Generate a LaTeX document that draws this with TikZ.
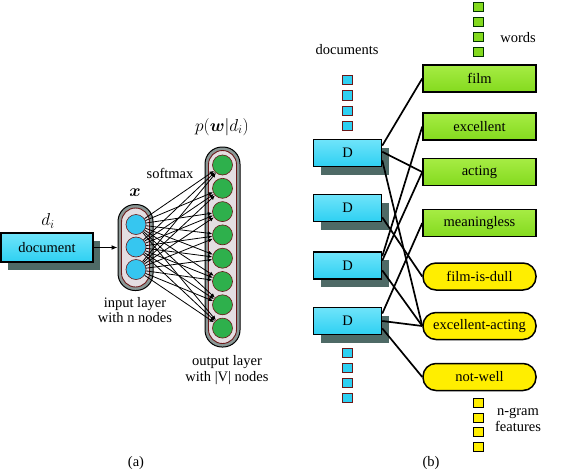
\documentclass[tikz,border=0pt]{standalone}
\usepackage{fontspec}
\setmainfont{Liberation Serif}
\usepackage{amsmath,bm}
\usetikzlibrary{arrows.meta,shadows,calc}
\definecolor{cyanf}{HTML}{2ED0F2}
\definecolor{cyantop}{HTML}{6FE4FA}
\definecolor{greenf}{HTML}{84DA1E}
\definecolor{greentop}{HTML}{A6EC44}
\definecolor{yellowf}{HTML}{FFEE00}
\definecolor{shadowc}{HTML}{4E6A66}
\definecolor{capgray}{HTML}{8A9896}
\definecolor{capin}{HTML}{E4DEE2}
\definecolor{darkred}{HTML}{6A1818}
\definecolor{nodegreen}{HTML}{2EB04C}
\definecolor{nodecyan}{HTML}{36C6F0}
\begin{document}
\begin{tikzpicture}[x=1pt,y=-1pt,
  lbl/.style={font=\fontsize{14.5}{15.5}\selectfont, inner sep=0pt, align=center},
  mlbl/.style={font=\fontsize{16.5}{18}\selectfont, inner sep=0pt},
  boxfont/.style={font=\fontsize{14.5}{16}\selectfont},
  cyanbox/.style={draw=black, line width=1.5pt, top color=cyantop, bottom color=cyanf,
    inner sep=0pt, boxfont,
    drop shadow={shadow xshift=7pt, shadow yshift=-8pt, fill=shadowc, opacity=1}},
  dbox/.style={cyanbox, minimum width=68pt, minimum height=27pt},
  wbox/.style={draw=black, line width=1.5pt, top color=greentop, bottom color=greenf,
    minimum width=113pt, minimum height=27pt, inner sep=0pt, boxfont},
  nbox/.style={draw=black, line width=1.5pt, fill=yellowf, rounded corners=13pt,
    minimum width=113pt, minimum height=27pt, inner sep=0pt, boxfont},
  capout/.style={draw=black, line width=1pt, fill=capgray, inner sep=0pt},
  capinner/.style={draw=darkred, line width=0.9pt, fill=capin, inner sep=0pt},
  incirc/.style={circle, draw=darkred, line width=0.6pt, fill=nodecyan, minimum size=20pt, inner sep=0pt},
  outcirc/.style={circle, draw=darkred, line width=0.6pt, fill=nodegreen, minimum size=20pt, inner sep=0pt},
  sq/.style={draw=#1, line width=1.2pt, minimum size=9.5pt, inner sep=0pt},
  nnedge/.style={line width=0.8pt, -{Latex[length=4.5pt,width=4pt]}},
  link/.style={line width=1.7pt}
]
\useasboundingbox (0,0) rectangle (570,474);

% ---------- (a) ----------
\node[cyanbox, minimum width=92pt, minimum height=29pt] (doc) at (47,247.5) {document};
\node[mlbl] (dlbl) at (48,221) {$d_i$};

\node[capout, rounded corners=17pt, minimum width=35pt, minimum height=86pt] (inL) at (135.5,247.5) {};
\node[capinner, rounded corners=14pt, minimum width=28pt, minimum height=79pt] (inLi) at (135.5,247.5) {};
\node[incirc] (i1) at (136,224.5) {};
\node[incirc] (i2) at (136,247) {};
\node[incirc] (i3) at (136,269.5) {};
\node[mlbl] (xlbl) at (135,193) {$\boldsymbol{x}$};
\node[lbl] (inlbl) at (135,310) {input layer\\with n nodes};

\node[capout, rounded corners=17pt, minimum width=35pt, minimum height=200pt] (outL) at (222.5,247) {};
\node[capinner, rounded corners=14pt, minimum width=28pt, minimum height=193pt] (outLi) at (222.5,247) {};
\foreach \j in {1,...,8} {
  \node[outcirc] (o\j) at (222.5,{165+(\j-1)*23.3}) {};
}
\node[mlbl] (plbl) at (222,127) {$p(\boldsymbol{w}|d_i)$};
\node[lbl] (smlbl) at (170,173) {softmax};
\node[lbl] (outlbl) at (227,370) {output layer\\with |V| nodes};

\draw[line width=1.2pt, -{Latex[length=6pt,width=5pt]}] (doc.east) -- (inL.west);
\foreach \i in {1,2,3} {
  \foreach \j in {1,...,8} {
    \draw[nnedge] (i\i) -- (o\j);
  }
}
\node[lbl] (alb) at (136,463) {(a)};

% ---------- (b) ----------
\node[lbl] (doclbl) at (347,50) {documents};
\foreach \k/\y in {1/80,2/95.5,3/111,4/126} {
  \node[sq=darkred, fill=cyanf] (ct\k) at (347.5,\y) {};
}
\foreach \k/\y in {1/353,2/368,3/383,4/398} {
  \node[sq=darkred, fill=cyanf] (cb\k) at (347.5,\y) {};
}
\foreach \k/\y in {1/7,2/22,3/37,4/52} {
  \node[sq=black!80!green, fill=greenf] (gs\k) at (478.5,\y) {};
}
\foreach \k/\y in {1/403,2/418,3/432,4/447} {
  \node[sq=black, fill=yellowf] (ys\k) at (478.5,\y) {};
}
\node[lbl] (wlbl) at (518,38) {words};
\node[lbl] (nglbl) at (518,420) {n-gram\\features};

\node[dbox] (D1) at (347.5,153) {D};
\node[dbox] (D2) at (347.5,208) {D};
\node[dbox] (D3) at (347.5,265.5) {D};
\node[dbox] (D4) at (347.5,321) {D};

\node[wbox] (film) at (479.5,78.5) {film};
\node[wbox] (excellent) at (479.5,126.5) {excellent};
\node[wbox] (acting) at (479.5,172) {acting};
\node[wbox] (meaningless) at (479.5,223) {meaningless};
\node[nbox] (fid) at (479.5,276.5) {film-is-dull};
\node[nbox] (exa) at (479.5,326) {excellent-acting};
\node[nbox] (nw) at (479.5,377) {not-well};

\draw[link] (D1.12) -- (film.west);
\draw[link] (D1.2) -- (acting.west);
\draw[link] (D1.-12) -- (exa.west);
\draw[link] (D2.-15) -- (fid.west);
\draw[link] (D3.15) -- (excellent.west);
\draw[link] (D3.8) -- (acting.west);
\draw[link] (D3.-8) -- (exa.west);
\draw[link] (D4.12) -- (meaningless.west);
\draw[link] (D4.0) -- (exa.west);
\draw[link] (D4.-12) -- (nw.west);

\node[lbl] (blb) at (431,463) {(b)};
\end{tikzpicture}
\end{document}
